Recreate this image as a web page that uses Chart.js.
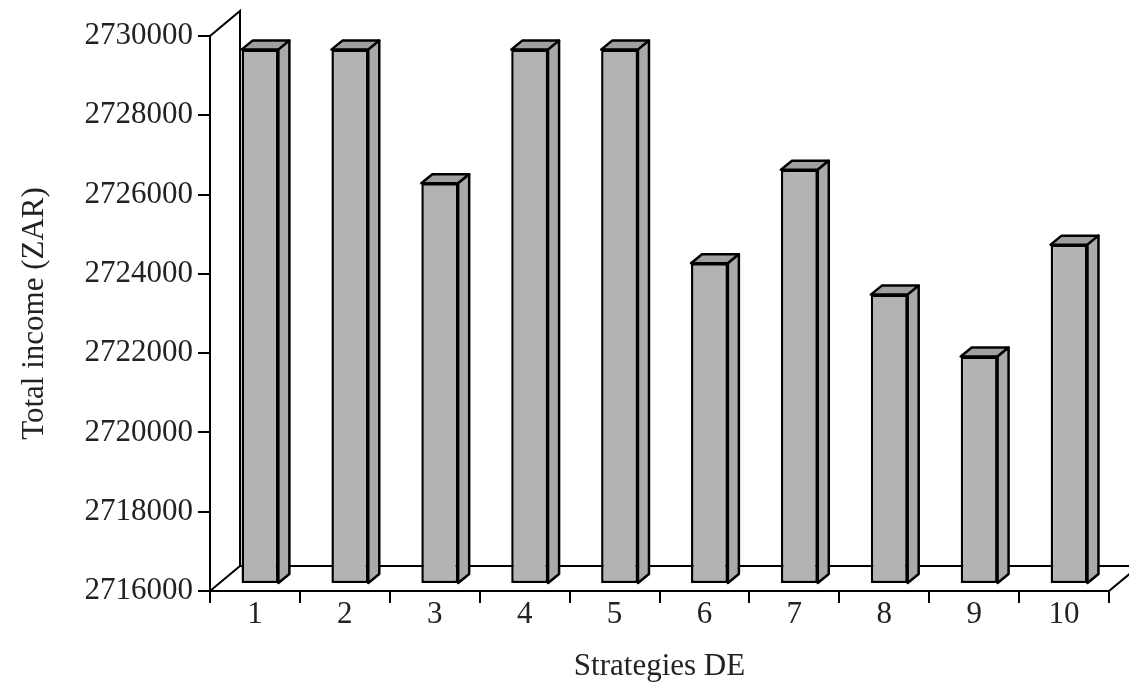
<!DOCTYPE html>
<html>
<head>
<meta charset="utf-8">
<script src="https://cdn.jsdelivr.net/npm/chart.js@4.4.1/dist/chart.umd.min.js"></script>
<style>
  html, body { margin: 0; padding: 0; background: #ffffff; }
  #wrap { width: 1129px; height: 682px; position: relative; }
</style>
</head>
<body>
<div id="wrap"><canvas id="c" width="1129" height="682"></canvas></div>
<script>
// ---- data ----
const categories = ['1', '2', '3', '4', '5', '6', '7', '8', '9', '10'];
const totalIncome = [2729480, 2729480, 2726110, 2729480, 2729480, 2724090, 2726450, 2723300, 2721740, 2724560];
const yTickValues = [2716000, 2718000, 2720000, 2722000, 2724000, 2726000, 2728000, 2730000];
const yMin = 2716000, yMax = 2730000;
const yTitle = 'Total income (ZAR)';
const xTitle = 'Strategies DE';

// ---- pseudo 3D styling ----
const FLOOR_DX = 30, FLOOR_DY = -25;   // depth of the back wall / floor
const BAR_OX = 5, BAR_OY = -7;         // offset of bar front face from the front axis
const BAR_DX = 11, BAR_DY = -9;        // depth of each bar
const FRONT = '#b4b2b5', SIDE = '#aba9ac', TOP = '#a09ea1';

const threeD = {
  id: 'threeD',
  beforeDatasetsDraw(chart) {
    const { ctx, chartArea: a } = chart;
    ctx.save();
    ctx.strokeStyle = '#000';
    ctx.lineWidth = 2;
    ctx.beginPath();
    ctx.moveTo(a.left, a.top);
    ctx.lineTo(a.left + FLOOR_DX, a.top + FLOOR_DY);
    ctx.lineTo(a.left + FLOOR_DX, a.bottom + FLOOR_DY);
    ctx.lineTo(a.right + FLOOR_DX, a.bottom + FLOOR_DY);
    ctx.moveTo(a.left, a.bottom);
    ctx.lineTo(a.left + FLOOR_DX, a.bottom + FLOOR_DY);
    ctx.moveTo(a.right, a.bottom);
    ctx.lineTo(a.right + FLOOR_DX, a.bottom + FLOOR_DY);
    ctx.stroke();
    ctx.restore();
    ctx.save();
    ctx.translate(BAR_OX, BAR_OY);
  },
  afterDatasetsDraw(chart) {
    const { ctx } = chart;
    ctx.lineWidth = 2.5;
    ctx.strokeStyle = '#000';
    ctx.lineJoin = 'round';
    chart.getDatasetMeta(0).data.forEach(bar => {
      const { x, y, width, base } = bar.getProps(['x', 'y', 'width', 'base'], true);
      const L = x - width / 2, R = x + width / 2;
      ctx.beginPath();
      ctx.moveTo(L, y);
      ctx.lineTo(L + BAR_DX, y + BAR_DY);
      ctx.lineTo(R + BAR_DX, y + BAR_DY);
      ctx.lineTo(R, y);
      ctx.closePath();
      ctx.fillStyle = TOP;
      ctx.fill();
      ctx.stroke();
      ctx.beginPath();
      ctx.moveTo(R, y);
      ctx.lineTo(R + BAR_DX, y + BAR_DY);
      ctx.lineTo(R + BAR_DX, base + BAR_DY);
      ctx.lineTo(R, base);
      ctx.closePath();
      ctx.fillStyle = SIDE;
      ctx.fill();
      ctx.stroke();
    });
    ctx.restore();
  }
};

const FONT = 'Liberation Serif';

new Chart(document.getElementById('c'), {
  type: 'bar',
  data: {
    labels: categories,
    datasets: [{
      data: totalIncome,
      base: yMin,
      backgroundColor: FRONT,
      borderColor: '#000',
      borderWidth: 2.5,
      borderSkipped: false,
      barPercentage: 0.41,
      categoryPercentage: 1.0,
      clip: false
    }]
  },
  options: {
    responsive: false,
    animation: false,
    events: [],
    layout: { padding: { top: 36, right: 20, bottom: 0, left: 0 } },
    plugins: { legend: { display: false }, tooltip: { enabled: false } },
    scales: {
      x: {
        afterFit(scale) { scale.height = 91; },
        grid: { display: true, drawOnChartArea: false, drawTicks: true, tickLength: 12, color: '#000', lineWidth: 2, offset: true },
        border: { display: true, color: '#000', width: 2 },
        ticks: { color: '#222', font: { family: FONT, size: 31, lineHeight: 1 }, padding: -4, maxRotation: 0 },
        title: { display: true, text: xTitle, color: '#222', font: { family: FONT, size: 31, lineHeight: 1 }, padding: { top: 0, bottom: 0 } }
      },
      y: {
        min: yMin,
        max: yMax,
        afterFit(scale) { scale.width = 210; },
        afterBuildTicks(scale) { scale.ticks = yTickValues.map(v => ({ value: v })); },
        grid: { display: true, drawOnChartArea: false, drawTicks: true, tickLength: 12, color: '#000', lineWidth: 2 },
        border: { display: true, color: '#000', width: 2 },
        ticks: { color: '#222', font: { family: FONT, size: 31 }, padding: 5, callback: v => String(v) },
        title: { display: true, text: yTitle, color: '#222', font: { family: FONT, size: 31, lineHeight: 1 }, padding: { top: 19, bottom: 0 } }
      }
    }
  },
  plugins: [threeD]
});
</script>
</body>
</html>
